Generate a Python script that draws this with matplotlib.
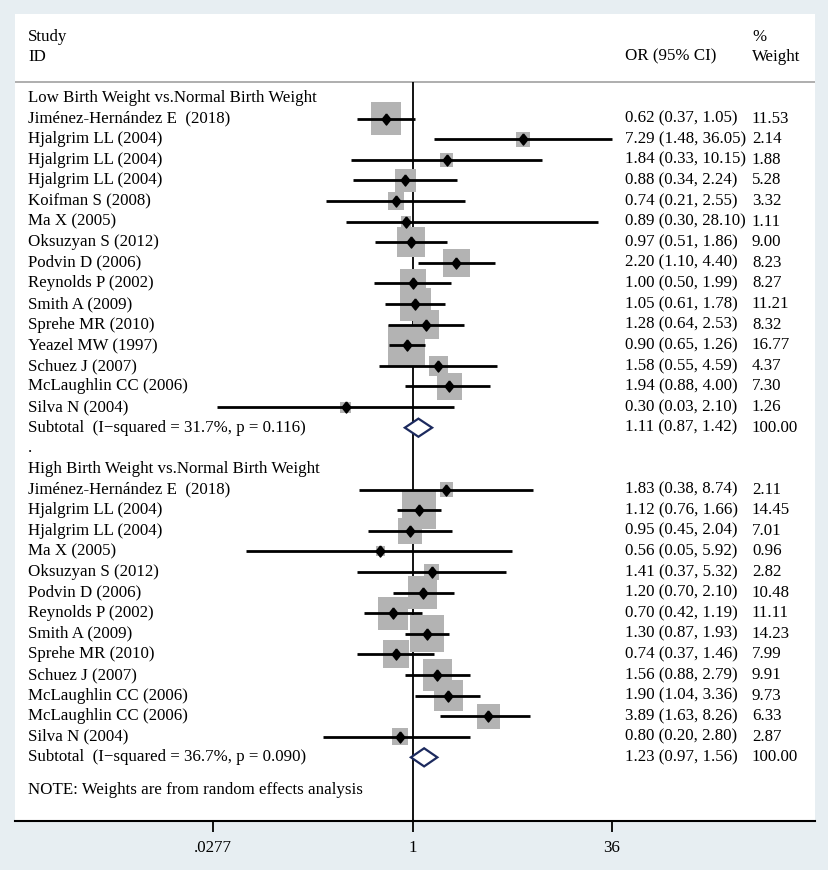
import numpy as np
import matplotlib
matplotlib.use("Agg")
import matplotlib.pyplot as plt
from matplotlib.patches import Rectangle, Polygon
from matplotlib.transforms import blended_transform_factory

plt.rcParams['font.family'] = ['Liberation Serif', 'DejaVu Serif']

# --- data ---
low_study = ["Jiménez-Hernández E  (2018)", "Hjalgrim LL (2004)", "Hjalgrim LL (2004)",
             "Hjalgrim LL (2004)", "Koifman S (2008)", "Ma X (2005)", "Oksuzyan S (2012)",
             "Podvin D (2006)", "Reynolds P (2002)", "Smith A (2009)", "Sprehe MR (2010)",
             "Yeazel MW (1997)", "Schuez J (2007)", "McLaughlin CC (2006)", "Silva N (2004)"]
low_or = [0.62, 7.29, 1.84, 0.88, 0.74, 0.89, 0.97, 2.20, 1.00, 1.05, 1.28, 0.90, 1.58, 1.94, 0.30]
low_lo = [0.37, 1.48, 0.33, 0.34, 0.21, 0.30, 0.51, 1.10, 0.50, 0.61, 0.64, 0.65, 0.55, 0.88, 0.03]
low_hi = [1.05, 36.05, 10.15, 2.24, 2.55, 28.10, 1.86, 4.40, 1.99, 1.78, 2.53, 1.26, 4.59, 4.00, 2.10]
low_w = [11.53, 2.14, 1.88, 5.28, 3.32, 1.11, 9.00, 8.23, 8.27, 11.21, 8.32, 16.77, 4.37, 7.30, 1.26]
low_sub = (1.11, 0.87, 1.42)
low_het = "Subtotal  (I\u2212squared = 31.7%, p = 0.116)"

high_study = ["Jiménez-Hernández E  (2018)", "Hjalgrim LL (2004)", "Hjalgrim LL (2004)",
              "Ma X (2005)", "Oksuzyan S (2012)", "Podvin D (2006)", "Reynolds P (2002)",
              "Smith A (2009)", "Sprehe MR (2010)", "Schuez J (2007)", "McLaughlin CC (2006)",
              "McLaughlin CC (2006)", "Silva N (2004)"]
high_or = [1.83, 1.12, 0.95, 0.56, 1.41, 1.20, 0.70, 1.30, 0.74, 1.56, 1.90, 3.89, 0.80]
high_lo = [0.38, 0.76, 0.45, 0.05, 0.37, 0.70, 0.42, 0.87, 0.37, 0.88, 1.04, 1.63, 0.20]
high_hi = [8.74, 1.66, 2.04, 5.92, 5.32, 2.10, 1.19, 1.93, 1.46, 2.79, 3.36, 8.26, 2.80]
high_w = [2.11, 14.45, 7.01, 0.96, 2.82, 10.48, 11.11, 14.23, 7.99, 9.91, 9.73, 6.33, 2.87]
high_sub = (1.23, 0.97, 1.56)
high_het = "Subtotal  (I\u2212squared = 36.7%, p = 0.090)"

group_titles = ["Low Birth Weight vs.Normal Birth Weight", "High Birth Weight vs.Normal Birth Weight"]
tick_vals = [0.0277, 1, 36]
tick_labels = [".0277", "1", "36"]

# --- figure ---
W, H = 829, 874
fig = plt.figure(figsize=(W / 100, H / 100), dpi=100, facecolor="#e7eef2")
ax = fig.add_axes([15 / W, (H - 821) / H, 800 / W, (821 - 14) / H])
ax.set_facecolor("white")
fig.patches.append(Rectangle((0, 0), 1, 4 / H, transform=fig.transFigure,
                             facecolor="white", edgecolor="none"))

px_per_ln = 55.65
row_px = 20.6
x0 = 412.6 - 15  # null line, px from axes left
ax.set_xlim(-x0 / px_per_ln, (800 - x0) / px_per_ln)
ax.set_ylim(35.09, -4.08)

fs = 12.2
txt = blended_transform_factory(fig.transFigure, ax.transData)
col_study, col_or, col_w = 28 / W, 625 / W, 752 / W
# slightly tall diamond for point estimates
dmark = [(0, 1), (0.8, 0), (0, -1), (-0.8, 0), (0, 1)]

ax.text(col_study, -2.97, "Study", transform=txt, fontsize=fs, va="center")
ax.text(col_study, -2.0, "ID", transform=txt, fontsize=fs, va="center")
ax.text(col_or, -2.0, "OR (95% CI)", transform=txt, fontsize=fs, va="center")
ax.text(col_w, -2.97, "%", transform=txt, fontsize=fs, va="center")
ax.text(col_w, -2.0, "Weight", transform=txt, fontsize=fs, va="center")
ax.axhline(-0.78, color="#a8a8a8", lw=1.3, zorder=1)

ax.vlines(0, -0.78, 35.09, color="black", lw=1.3, zorder=1)

groups = [(low_study, low_or, low_lo, low_hi, low_w, low_sub, low_het),
          (high_study, high_or, high_lo, high_hi, high_w, high_sub, high_het)]
row = 0
for g, (names, ors, los, his, ws, sub, het) in enumerate(groups):
    ax.text(col_study, row, group_titles[g], transform=txt, fontsize=fs, va="center")
    row += 1
    for name, o, lo, hi, w in zip(names, ors, los, his, ws):
        bw = 9.1 * np.sqrt(w) / px_per_ln
        bh = 9.9 * np.sqrt(w) / row_px
        ax.add_patch(Rectangle((np.log(o) - bw / 2, row - bh / 2), bw, bh,
                               facecolor="#b3b3b3", edgecolor="none", zorder=2))
        ax.plot([np.log(lo), np.log(hi)], [row, row], color="black", lw=2.0,
                solid_capstyle="butt", zorder=3)
        ax.plot(np.log(o), row, marker=dmark, color="black", ms=8, zorder=4)
        ax.text(col_study, row, name, transform=txt, fontsize=fs, va="center")
        ax.text(col_or, row, f"{o:.2f} ({lo:.2f}, {hi:.2f})", transform=txt,
                fontsize=fs, va="center")
        ax.text(col_w, row, f"{w:.2f}", transform=txt, fontsize=fs, va="center")
        row += 1
    o, lo, hi = sub
    dh = 0.44
    ax.add_patch(Polygon([(np.log(lo), row), (np.log(o), row - dh), (np.log(hi), row),
                          (np.log(o), row + dh)], closed=True, facecolor="white",
                         edgecolor="#1c2a5e", lw=1.6, zorder=5))
    ax.text(col_study, row, het, transform=txt, fontsize=fs, va="center")
    ax.text(col_or, row, f"{o:.2f} ({lo:.2f}, {hi:.2f})", transform=txt,
            fontsize=fs, va="center")
    ax.text(col_w, row, "100.00", transform=txt, fontsize=fs, va="center")
    row += 1
    if g == 0:
        ax.text(col_study, row, ".", transform=txt, fontsize=fs, va="center")
        row += 1

ax.text(col_study, row + 0.6, "NOTE: Weights are from random effects analysis",
        transform=txt, fontsize=fs, va="center")

for s in ["top", "left", "right"]:
    ax.spines[s].set_visible(False)
ax.spines["bottom"].set_linewidth(1.5)
ax.set_yticks([])
ax.set_xticks(np.log(tick_vals))
ax.set_xticklabels(tick_labels, fontsize=fs)
ax.tick_params(axis="x", length=8, width=1.3, pad=6, direction="out")

fig.savefig("out.png", dpi=100, facecolor=fig.get_facecolor())
